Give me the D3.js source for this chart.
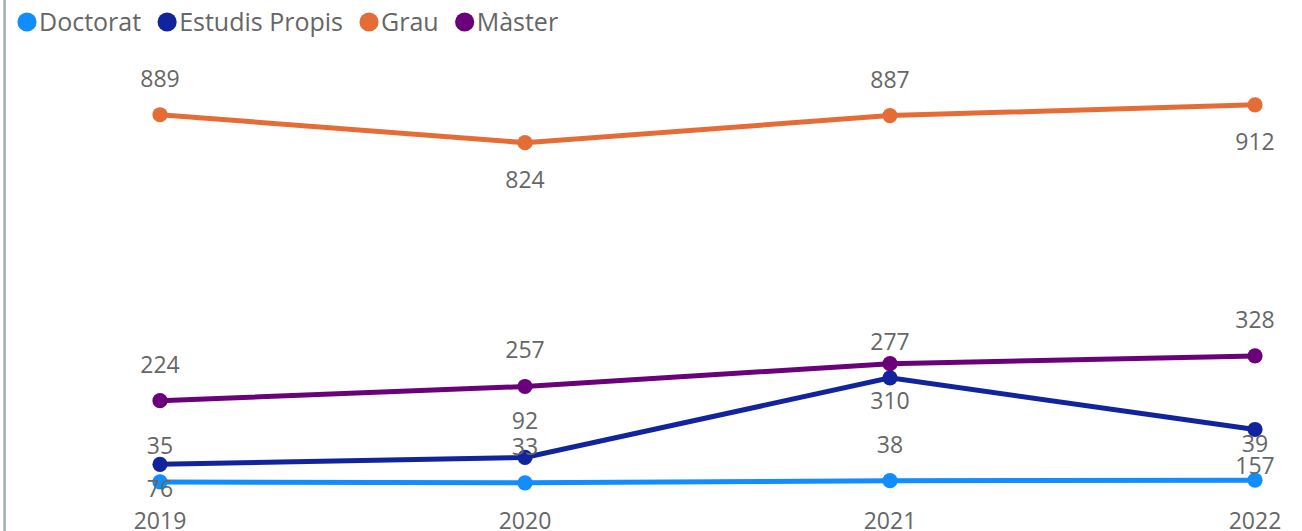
<!DOCTYPE html>
<html lang="ca">
<head>
<meta charset="UTF-8">
<title>Estudiants per tipus d'estudi</title>
<script src="https://d3js.org/d3.v7.min.js"></script>
<style>
    body {margin: 0; background: #fff;}
    svg {display: block;}
    text {font-family: "Segoe UI", "Open Sans", sans-serif; fill: #666;}
</style>
</head>
<body>
<div id="chart"></div>
<script>
    // dades
    var years = ["2019", "2020", "2021", "2022"];
    var seriesNames = ["Doctorat", "Estudis Propis", "Grau", "Màster"];
    var doctorat = [35, 33, 38, 39];
    var estudisPropis = [76, 92, 277, 157];
    var grau = [889, 824, 887, 912];
    var master = [224, 257, 310, 328];
    // on va l'etiqueta de cada punt
    var doctoratPos = ["above", "above", "above", "above"];
    var estudisPropisPos = ["below", "above", "above", "below"];
    var grauPos = ["above", "below", "above", "below"];
    var masterPos = ["above", "above", "below", "above"];

    var colors = ["#118DFF", "#12239E", "#E66C37", "#6B007B"];

    var series = [
        {name: seriesNames[0], values: doctorat, pos: doctoratPos, color: colors[0]},
        {name: seriesNames[1], values: estudisPropis, pos: estudisPropisPos, color: colors[1]},
        {name: seriesNames[2], values: grau, pos: grauPos, color: colors[2]},
        {name: seriesNames[3], values: master, pos: masterPos, color: colors[3]}
    ];

    var width = 1302, height = 531;

    var svg = d3.select("#chart").append("svg")
        .attr("width", width)
        .attr("height", height);

    // vora esquerra
    svg.append("rect")
        .attr("x", 3.3).attr("y", 0)
        .attr("width", 2.6).attr("height", height)
        .style("fill", "#A3B3B0");

    var x = d3.scalePoint()
        .domain(years)
        .range([160, 1255]);

    var y = d3.scaleLinear()
        .domain([0, 1000])
        .range([497, 67]);

    // llegenda
    var legend = svg.append("g").attr("transform", "translate(0,22)");
    var lx = 17;
    series.forEach(function(s) {
        var g = legend.append("g").attr("transform", "translate(" + lx + ",0)");
        g.append("circle").attr("cx", 10).attr("cy", 0).attr("r", 9.6).style("fill", s.color);
        var t = g.append("text")
            .attr("x", 22).attr("y", 9)
            .style("font-size", "25px")
            .text(s.name);
        lx += 22 + t.node().getComputedTextLength() + 16;
    });

    // eix x
    svg.append("g").selectAll("text")
        .data(years)
        .enter().append("text")
        .attr("x", function(d) {return x(d)})
        .attr("y", 529)
        .attr("text-anchor", "middle")
        .style("font-size", "23px")
        .text(function(d) {return d});

    var line = d3.line()
        .x(function(d, i) {return x(years[i])})
        .y(function(d) {return y(d)});

    var lines = svg.append("g");
    series.forEach(function(s) {
        lines.append("path")
            .attr("d", line(s.values))
            .style("fill", "none")
            .style("stroke", s.color)
            .style("stroke-width", 5);
        lines.selectAll(null)
            .data(s.values)
            .enter().append("circle")
            .attr("cx", function(d, i) {return x(years[i])})
            .attr("cy", function(d) {return y(d)})
            .attr("r", 7.6)
            .style("fill", s.color);
    });

    // etiquetes de dades
    var labels = svg.append("g");
    series.forEach(function(s) {
        labels.selectAll(null)
            .data(s.values)
            .enter().append("text")
            .attr("x", function(d, i) {return x(years[i])})
            .attr("y", function(d, i) {
                var yy = s.pos[i] == "above" ? y(d) - 28 : y(d) + 45;
                return Math.min(yy, y(0));
            })
            .attr("text-anchor", "middle")
            .style("font-size", "23px")
            .text(function(d) {return d});
    });
</script>
</body>
</html>
